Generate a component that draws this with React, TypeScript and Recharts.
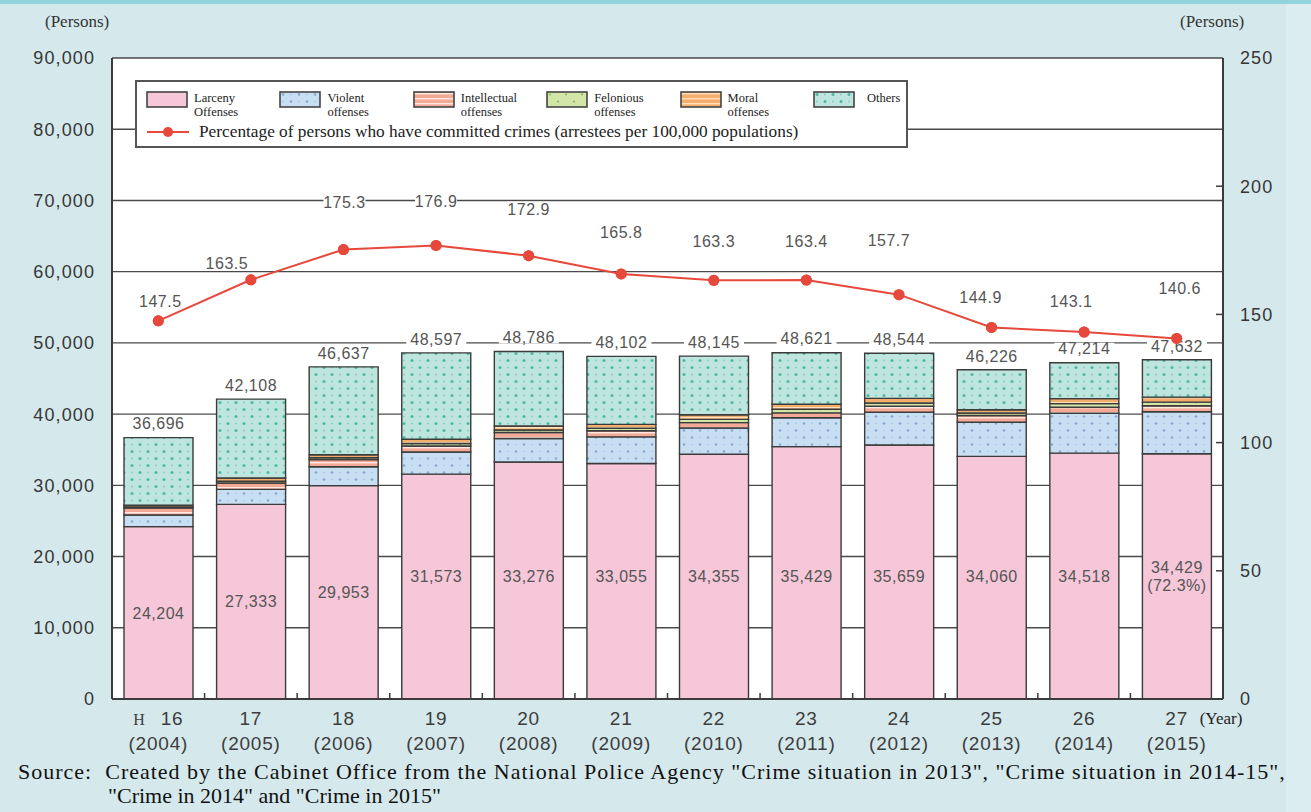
import { ComposedChart, Bar, Line, XAxis, YAxis, CartesianGrid, LabelList } from 'recharts';

// Fiscal years (Heisei) and their Western equivalents
const heiseiYears = ['16', '17', '18', '19', '20', '21', '22', '23', '24', '25', '26', '27'];
const westernYears = ['2004', '2005', '2006', '2007', '2008', '2009', '2010', '2011', '2012', '2013', '2014', '2015'];

// Arrestees by offense type (persons)
const larceny = [24204, 27333, 29953, 31573, 33276, 33055, 34355, 35429, 35659, 34060, 34518, 34429];
const violent = [1640, 2100, 2650, 3100, 3300, 3750, 3700, 4050, 4600, 4800, 5600, 5900];
const intellectual = [950, 900, 1000, 850, 850, 850, 750, 700, 850, 950, 850, 850];
const felonious = [170, 250, 280, 350, 350, 350, 450, 500, 450, 350, 500, 500];
const moral = [250, 450, 420, 600, 550, 550, 650, 700, 650, 450, 700, 700];
const others = [9482, 11075, 12334, 12124, 10460, 9547, 8240, 7242, 6335, 5616, 5046, 5253];
const totals = [36696, 42108, 46637, 48597, 48786, 48102, 48145, 48621, 48544, 46226, 47214, 47632];

// Arrestees per 100,000 population
const arrestRate = [147.5, 163.5, 175.3, 176.9, 172.9, 165.8, 163.3, 163.4, 157.7, 144.9, 143.1, 140.6];
// small [dx, dy] nudges so the rate labels clear the line
const rateLabelNudge = [
  [2, -20], [-24, -17], [1, -47], [0, -44], [0, -46], [0, -42],
  [0, -39], [0, -39], [-10, -54], [-11, -30], [-13, -31], [3, -50],
];

const leftTicks = [0, 10000, 20000, 30000, 40000, 50000, 60000, 70000, 80000, 90000];
const rightTicks = [0, 50, 100, 150, 200, 250];

const data = heiseiYears.map((year, i) => ({
  year,
  western: westernYears[i],
  larceny: larceny[i],
  violent: violent[i],
  intellectual: intellectual[i],
  felonious: felonious[i],
  moral: moral[i],
  others: others[i],
  total: totals[i],
  rate: arrestRate[i],
}));

const SANS = '"Liberation Sans", Arial, sans-serif';
const SERIF = '"Liberation Serif", "Times New Roman", serif';
const W = 1311;
const H = 812;
const PLOT_LEFT = 112;
const PLOT_RIGHT = 1223;
const PLOT_TOP = 58;
const PLOT_BOTTOM = 699;
const BAND = (PLOT_RIGHT - PLOT_LEFT) / heiseiYears.length;
const EDGE = '#3b3b3b';
const RED = '#e6483b';

const fmt = (v: number) => v.toLocaleString('en-US');

const legendItems = [
  { fill: 'url(#pat-larceny)', lines: ['Larceny', 'Offenses'] },
  { fill: 'url(#pat-violent)', lines: ['Violent', 'offenses'] },
  { fill: 'url(#pat-intellectual)', lines: ['Intellectual', 'offenses'] },
  { fill: 'url(#pat-felonious)', lines: ['Felonious', 'offenses'] },
  { fill: 'url(#pat-moral)', lines: ['Moral', 'offenses'] },
  { fill: 'url(#pat-others)', lines: ['Others'] },
];

function Patterns() {
  return (
    <svg width={0} height={0} style={{ position: 'absolute' }}>
      <defs>
        <pattern id="pat-larceny" width={8} height={8} patternUnits="userSpaceOnUse">
          <rect width={8} height={8} fill="#f5c7d8" />
        </pattern>
        <pattern id="pat-violent" width={16} height={14} patternUnits="userSpaceOnUse">
          <rect width={16} height={14} fill="#c8def2" />
          <circle cx={4} cy={3.5} r={1.3} fill="#86a8d3" />
          <circle cx={12} cy={10.5} r={1.3} fill="#86a8d3" />
          <circle cx={12} cy={3.5} r={0.8} fill="#a9c2e3" />
          <circle cx={4} cy={10.5} r={0.8} fill="#a9c2e3" />
        </pattern>
        <pattern id="pat-intellectual" width={6} height={5} patternUnits="userSpaceOnUse">
          <rect width={6} height={5} fill="#f4a996" />
          <rect y={2} width={6} height={1.4} fill="#fde9e4" />
        </pattern>
        <pattern id="pat-felonious" width={16} height={14} patternUnits="userSpaceOnUse">
          <rect width={16} height={14} fill="#d3e6a8" />
          <circle cx={4} cy={3.5} r={1.1} fill="#86b854" />
          <circle cx={12} cy={10.5} r={1.1} fill="#86b854" />
        </pattern>
        <pattern id="pat-moral" width={6} height={5} patternUnits="userSpaceOnUse">
          <rect width={6} height={5} fill="#f4ae6c" />
          <rect y={2} width={6} height={1.4} fill="#fde1bf" />
        </pattern>
        <pattern id="pat-others" width={16} height={14} patternUnits="userSpaceOnUse">
          <rect width={16} height={14} fill="#bfe5df" />
          <circle cx={4} cy={3.5} r={1.5} fill="#4fb8a4" />
          <circle cx={12} cy={10.5} r={1.5} fill="#4fb8a4" />
          <circle cx={12} cy={3.5} r={0.9} fill="#86ccbe" />
          <circle cx={4} cy={10.5} r={0.9} fill="#86ccbe" />
        </pattern>
      </defs>
    </svg>
  );
}

function LeftTick({ x, y, payload }: any) {
  return (
    <text x={x} y={y} dy="0.36em" textAnchor="end" fontFamily={SANS} fontSize={18}
      letterSpacing={1.1} fill="#363636">
      {fmt(payload.value)}
    </text>
  );
}

function RightTick({ x, y, payload }: any) {
  const v = payload.value;
  return (
    <g>
      {v > 0 && v < 250 && (
        <line x1={PLOT_RIGHT - 7} x2={PLOT_RIGHT} y1={y} y2={y} stroke={EDGE} strokeWidth={1.5} />
      )}
      <text x={x} y={y} dy="0.36em" textAnchor="start" fontFamily={SANS} fontSize={18}
        letterSpacing={1.1} fill="#363636">
        {v}
      </text>
    </g>
  );
}

function YearTick({ x, y, payload, index }: any) {
  const i = index ?? heiseiYears.indexOf(payload.value);
  const last = i === heiseiYears.length - 1;
  return (
    <g>
      {i < heiseiYears.length - 1 && (
        <line x1={x + BAND / 2} x2={x + BAND / 2} y1={y} y2={y - 6} stroke={EDGE} strokeWidth={1.5} />
      )}
      <text x={x} y={y + 19} dy="0.36em" textAnchor="middle" fontFamily={SANS} fontSize={19}
        letterSpacing={0.8} fill="#3d3d3d">
        {i === 0 && (
          <tspan fontFamily={SERIF} fontSize={16} letterSpacing={0}>H</tspan>
        )}
        <tspan dx={i === 0 ? 16 : 0}>{payload.value}</tspan>
      </text>
      <text x={x} y={y + 44} dy="0.36em" textAnchor="middle" fontFamily={SANS} fontSize={19}
        letterSpacing={0.8} fill="#3d3d3d">
        ({data[i].western})
      </text>
      {last && (
        <text x={x + 23} y={y + 19} dy="0.36em" fontFamily={SERIF} fontSize={17} fill="#222">
          (Year)
        </text>
      )}
    </g>
  );
}

function TotalLabel({ x, y, width, index }: any) {
  const cx = x + width / 2;
  const cy = y - 14;
  return (
    <g>
      <rect x={cx - 30} y={cy - 6} width={60} height={12} fill="#fff" />
      <text x={cx} y={cy} dy="0.36em" textAnchor="middle" fontFamily={SANS} fontSize={16}
        letterSpacing={0.5} fill="#555">
        {fmt(totals[index])}
      </text>
    </g>
  );
}

function LarcenyLabel({ x, y, width, height, value, index }: any) {
  const cx = x + width / 2;
  const bottom = y + height;
  // lower bars get the label at mid height, taller ones at a common level
  const at = value < 30000 ? value / 2 : 17200;
  const cy = bottom - (at * height) / value;
  const last = index === heiseiYears.length - 1;
  const share = ((value / totals[index]) * 100).toFixed(1);
  const style = { fontFamily: SANS, fontSize: 16, letterSpacing: 0.5, fill: '#555' };
  if (last) {
    return (
      <g>
        <text x={cx} y={cy - 9} dy="0.36em" textAnchor="middle" {...style}>{fmt(value)}</text>
        <text x={cx} y={cy + 9} dy="0.36em" textAnchor="middle" {...style}>({share}%)</text>
      </g>
    );
  }
  return (
    <text x={cx} y={cy} dy="0.36em" textAnchor="middle" {...style}>{fmt(value)}</text>
  );
}

// rate label; the marker is repeated here so it stays above the bar total labels
function RateLabel({ x, y, value, index }: any) {
  const [dx, dy] = rateLabelNudge[index];
  return (
    <g>
      <circle cx={x} cy={y} r={5.5} fill={RED} />
      <rect x={x + dx - 21} y={y + dy - 8} width={42} height={16} fill="#fff" />
      <text x={x + dx} y={y + dy} dy="0.36em" textAnchor="middle" fontFamily={SANS} fontSize={16}
        letterSpacing={0.5} fill="#555">
        {value.toFixed(1)}
      </text>
    </g>
  );
}

export default function App() {
  return (
    <div style={{ position: 'absolute', left: 0, top: 0, width: W, height: H, background: '#d5e9ec', overflow: 'hidden' }}>
      <Patterns />
      <div style={{ position: 'absolute', left: 0, top: 0, width: W, height: 4, background: '#93d3dc' }} />
      <div style={{ position: 'absolute', left: 1286, top: 4, width: 25, height: H, background: '#dcedf1' }} />

      <ComposedChart
        width={W}
        height={H}
        data={data}
        margin={{ top: PLOT_TOP, right: 0, bottom: 0, left: 0 }}
        barSize={69}
        style={{ position: 'absolute', left: 0, top: 0 }}
      >
        <CartesianGrid yAxisId="left" vertical={false} stroke="#4a4a4a" strokeWidth={1.4} fill="#fff" />
        <XAxis dataKey="year" height={H - PLOT_BOTTOM} interval={0} tickSize={0} tickMargin={0}
          tickLine={false} axisLine={{ stroke: EDGE, strokeWidth: 2 }} tick={<YearTick />} />
        <YAxis yAxisId="left" width={PLOT_LEFT} domain={[0, 90000]} ticks={leftTicks} interval={0}
          tickSize={0} tickMargin={17} tickLine={false} axisLine={{ stroke: EDGE, strokeWidth: 2 }}
          tick={<LeftTick />} />
        <YAxis yAxisId="right" orientation="right" width={W - PLOT_RIGHT} domain={[0, 250]}
          ticks={rightTicks} interval={0} tickSize={0} tickMargin={17} tickLine={false}
          axisLine={{ stroke: EDGE, strokeWidth: 2 }} tick={<RightTick />} />

        <Bar yAxisId="left" dataKey="larceny" stackId="a" fill="url(#pat-larceny)" stroke={EDGE}
          strokeWidth={1.4} isAnimationActive={false}>
          <LabelList dataKey="larceny" content={<LarcenyLabel />} />
        </Bar>
        <Bar yAxisId="left" dataKey="violent" stackId="a" fill="url(#pat-violent)" stroke={EDGE}
          strokeWidth={1.4} isAnimationActive={false} />
        <Bar yAxisId="left" dataKey="intellectual" stackId="a" fill="url(#pat-intellectual)" stroke={EDGE}
          strokeWidth={1.4} isAnimationActive={false} />
        <Bar yAxisId="left" dataKey="felonious" stackId="a" fill="url(#pat-felonious)" stroke={EDGE}
          strokeWidth={1.4} isAnimationActive={false} />
        <Bar yAxisId="left" dataKey="moral" stackId="a" fill="url(#pat-moral)" stroke={EDGE}
          strokeWidth={1.4} isAnimationActive={false} />
        <Bar yAxisId="left" dataKey="others" stackId="a" fill="url(#pat-others)" stroke={EDGE}
          strokeWidth={1.4} isAnimationActive={false}>
          <LabelList dataKey="total" content={<TotalLabel />} />
        </Bar>

        <Line yAxisId="right" type="linear" dataKey="rate" stroke={RED} strokeWidth={2}
          dot={{ r: 5.5, fill: RED, stroke: RED, strokeWidth: 0 }} activeDot={false}
          isAnimationActive={false}>
          <LabelList dataKey="rate" content={<RateLabel />} />
        </Line>
      </ComposedChart>

      {/* axis unit captions */}
      <div style={{ position: 'absolute', left: 45, top: 12, fontFamily: SERIF, fontSize: 17, color: '#333' }}>(Persons)</div>
      <div style={{ position: 'absolute', left: 1180, top: 12, fontFamily: SERIF, fontSize: 17, color: '#333' }}>(Persons)</div>

      {/* legend box */}
      <div style={{
        position: 'absolute', left: 135, top: 80, width: 773, height: 68, boxSizing: 'border-box',
        border: '2px solid #555', background: '#fff', fontFamily: SERIF, color: '#222',
      }}>
        {legendItems.map((item, i) => (
          <div key={i} style={{ position: 'absolute', left: 9 + i * 133.4, top: 9, display: 'flex' }}>
            <svg width={42} height={17} style={{ flex: 'none' }}>
              <rect x={1} y={1} width={40} height={15} fill={item.fill} stroke="#444" strokeWidth={1.6} />
            </svg>
            <div style={{ fontSize: 12.5, lineHeight: '14px', marginLeft: item.lines.length === 1 ? 12 : 6, whiteSpace: 'nowrap' }}>
              {item.lines.map((l, k) => <div key={k}>{l}</div>)}
            </div>
          </div>
        ))}
        <div style={{ position: 'absolute', left: 10, top: 40, display: 'flex', alignItems: 'center' }}>
          <svg width={42} height={12} style={{ flex: 'none' }}>
            <line x1={0} x2={42} y1={6} y2={6} stroke={RED} strokeWidth={2} />
            <circle cx={21} cy={6} r={5} fill={RED} />
          </svg>
          <div style={{ fontSize: 17.3, marginLeft: 10, whiteSpace: 'nowrap' }}>
            Percentage of persons who have committed crimes (arrestees per 100,000 populations)
          </div>
        </div>
      </div>

      {/* source note */}
      <div style={{ position: 'absolute', left: 18, top: 760, fontFamily: SERIF, fontSize: 22, lineHeight: '24px', letterSpacing: 1, color: '#111', whiteSpace: 'nowrap' }}>
        <div>Source:&nbsp; Created by the Cabinet Office from the National Police Agency "Crime situation in 2013", "Crime situation in 2014-15",</div>
        <div style={{ paddingLeft: 90, letterSpacing: 0 }}>"Crime in 2014" and "Crime in 2015"</div>
      </div>
    </div>
  );
}
